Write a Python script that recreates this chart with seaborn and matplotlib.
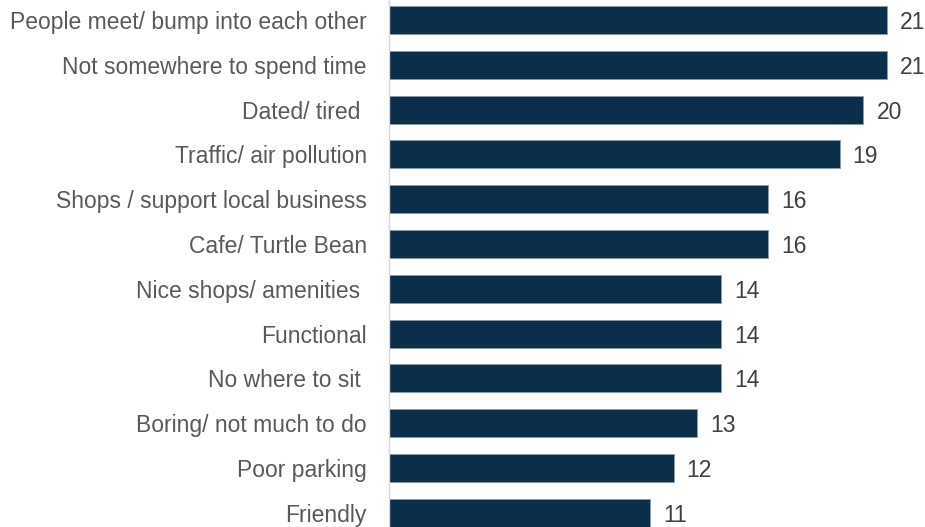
import matplotlib
matplotlib.use("Agg")
import matplotlib.pyplot as plt
import seaborn as sns
import pandas as pd

categories = [
    "People meet/ bump into each other",
    "Not somewhere to spend time",
    "Dated/ tired ",
    "Traffic/ air pollution",
    "Shops / support local business",
    "Cafe/ Turtle Bean",
    "Nice shops/ amenities ",
    "Functional",
    "No where to sit ",
    "Boring/ not much to do",
    "Poor parking",
    "Friendly",
]
values = [21, 21, 20, 19, 16, 16, 14, 14, 14, 13, 12, 11]

df = pd.DataFrame({"category": categories, "value": values})

sns.set_style("white")
plt.rcParams["font.family"] = ["Liberation Sans", "DejaVu Sans"]

fig = plt.figure(figsize=(9.25, 5.27), dpi=100)
ax = fig.add_axes([389 / 925, 0.0, 536 / 925, 1.0])

bar_color = "#0B2F4A"
sns.barplot(data=df, x="value", y="category", orient="h", color=bar_color,
            width=0.625, edgecolor="#8A9BAA", linewidth=0.6, ax=ax,
            saturation=1)

ax.set_xlim(0, 22.6)
ax.set_ylim(11.317, -0.446)
ax.set_xlabel("")
ax.set_ylabel("")
ax.set_xticks([])
ax.tick_params(axis="y", length=0, pad=16, labelsize=16.5, labelcolor="#595959")

for s in ["top", "right", "bottom"]:
    ax.spines[s].set_visible(False)
ax.spines["left"].set_color("#D9D9D9")
ax.spines["left"].set_linewidth(1.0)

for i, v in enumerate(values):
    ax.text(v + 0.55, i, f"{v}", va="center_baseline", ha="left",
            fontsize=16.5, color="#404040")

fig.savefig("out.png", dpi=100)
